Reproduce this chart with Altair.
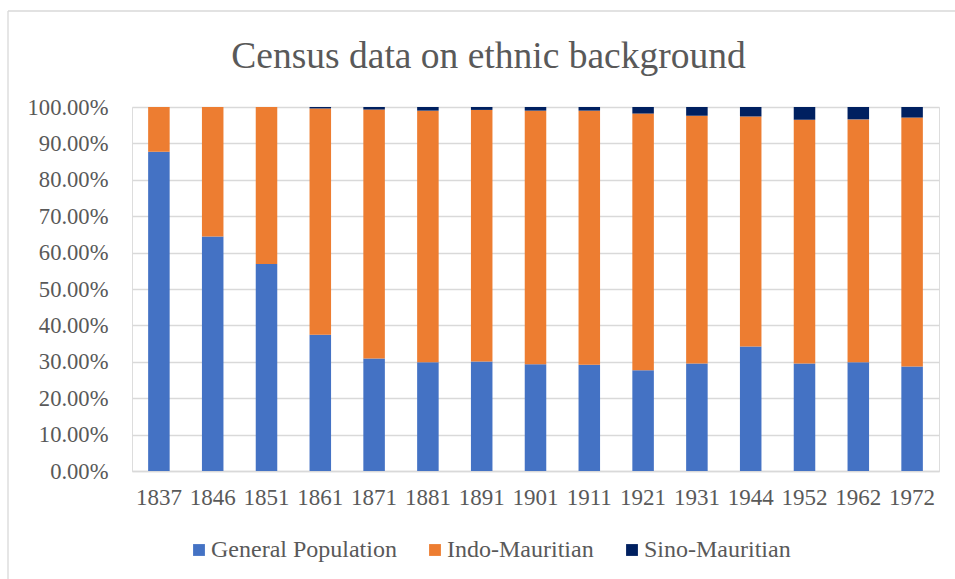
import altair as alt
import pandas as pd

# Census years and ethnic shares (percent of total population)
years = ["1837", "1846", "1851", "1861", "1871", "1881", "1891", "1901",
         "1911", "1921", "1931", "1944", "1952", "1962", "1972"]
general_population = [87.7, 64.4, 56.9, 37.4, 30.9, 29.9, 30.1, 29.3,
                      29.2, 27.7, 29.5, 34.2, 29.5, 29.9, 28.7]
indo_mauritian = [12.3, 35.6, 43.1, 62.2, 68.4, 69.1, 69.1, 69.7,
                  69.8, 70.5, 68.1, 63.2, 67.0, 66.7, 68.4]
sino_mauritian = [0.0, 0.0, 0.0, 0.4, 0.7, 1.0, 0.8, 1.0,
                  1.0, 1.8, 2.4, 2.6, 3.5, 3.4, 2.9]

groups = ["General Population", "Indo-Mauritian", "Sino-Mauritian"]
colors = ["#4472C4", "#ED7D31", "#002060"]

rows = []
for i, yr in enumerate(years):
    for k, (name, series) in enumerate(zip(groups, [general_population, indo_mauritian, sino_mauritian])):
        rows.append({"year": yr, "group": name, "share": series[i] / 100.0, "order": k})
df = pd.DataFrame(rows)

FONT = "Liberation Serif"
TEXT = "#595959"
GRID = "#D9D9D9"

bars = alt.Chart(df).mark_bar().encode(
    x=alt.X("year:N", sort=years, title=None,
            scale=alt.Scale(paddingInner=0.6, paddingOuter=0.3),
            axis=alt.Axis(labelAngle=0, labelFont=FONT, labelFontSize=23,
                          labelColor=TEXT, labelPadding=15, ticks=False,
                          domainColor=GRID, domainWidth=1.3)),
    y=alt.Y("share:Q", stack="zero", title=None,
            scale=alt.Scale(domain=[0, 1], nice=False),
            axis=alt.Axis(format=".2%", values=[i / 10 for i in range(11)],
                          labelFont=FONT, labelFontSize=22.6, labelColor=TEXT,
                          labelPadding=24, ticks=False, domain=False,
                          grid=True, gridColor=GRID, gridWidth=1.3)),
    color=alt.Color("group:N", sort=groups,
                    scale=alt.Scale(domain=groups, range=colors),
                    legend=alt.Legend(title=None, orient="none", direction="horizontal",
                                      legendX=55, legendY=431,
                                      symbolType="square", symbolSize=140,
                                      symbolStrokeWidth=0, labelLimit=0,
                                      labelFont=FONT, labelFontSize=24,
                                      labelColor=TEXT, labelOffset=0,
                                      columnPadding=26)),
    order=alt.Order("order:Q", sort="ascending"),
)

# thin frame around the chart area (top and left edges)
one = alt.Data(values=[{"k": 0}])
frame_top = alt.Chart(one).mark_rule(color=GRID, strokeWidth=1.3).encode(
    x=alt.value(-124), x2=alt.value(823), y=alt.value(-96))
frame_left = alt.Chart(one).mark_rule(color=GRID, strokeWidth=1.3).encode(
    x=alt.value(-124), y=alt.value(-96), y2=alt.value(472))

chart = alt.layer(bars, frame_top, frame_left).properties(
    width=807, height=364,
    title=alt.TitleParams("Census data on ethnic background", font=FONT,
                          fontSize=37.5, fontWeight="normal", color=TEXT,
                          anchor="middle", dx=-47, baseline="alphabetic",
                          offset=-95),
    autosize=alt.AutoSizeParams(type="none"),
    padding={"left": 132, "top": 107, "right": 16, "bottom": 108},
).configure_view(stroke=None).configure(
    background="white", font=FONT
).configure_axis(labelFont=FONT).configure_legend(labelFont=FONT)

chart.save("out.html", embed_options={"renderer": "svg", "actions": False})
